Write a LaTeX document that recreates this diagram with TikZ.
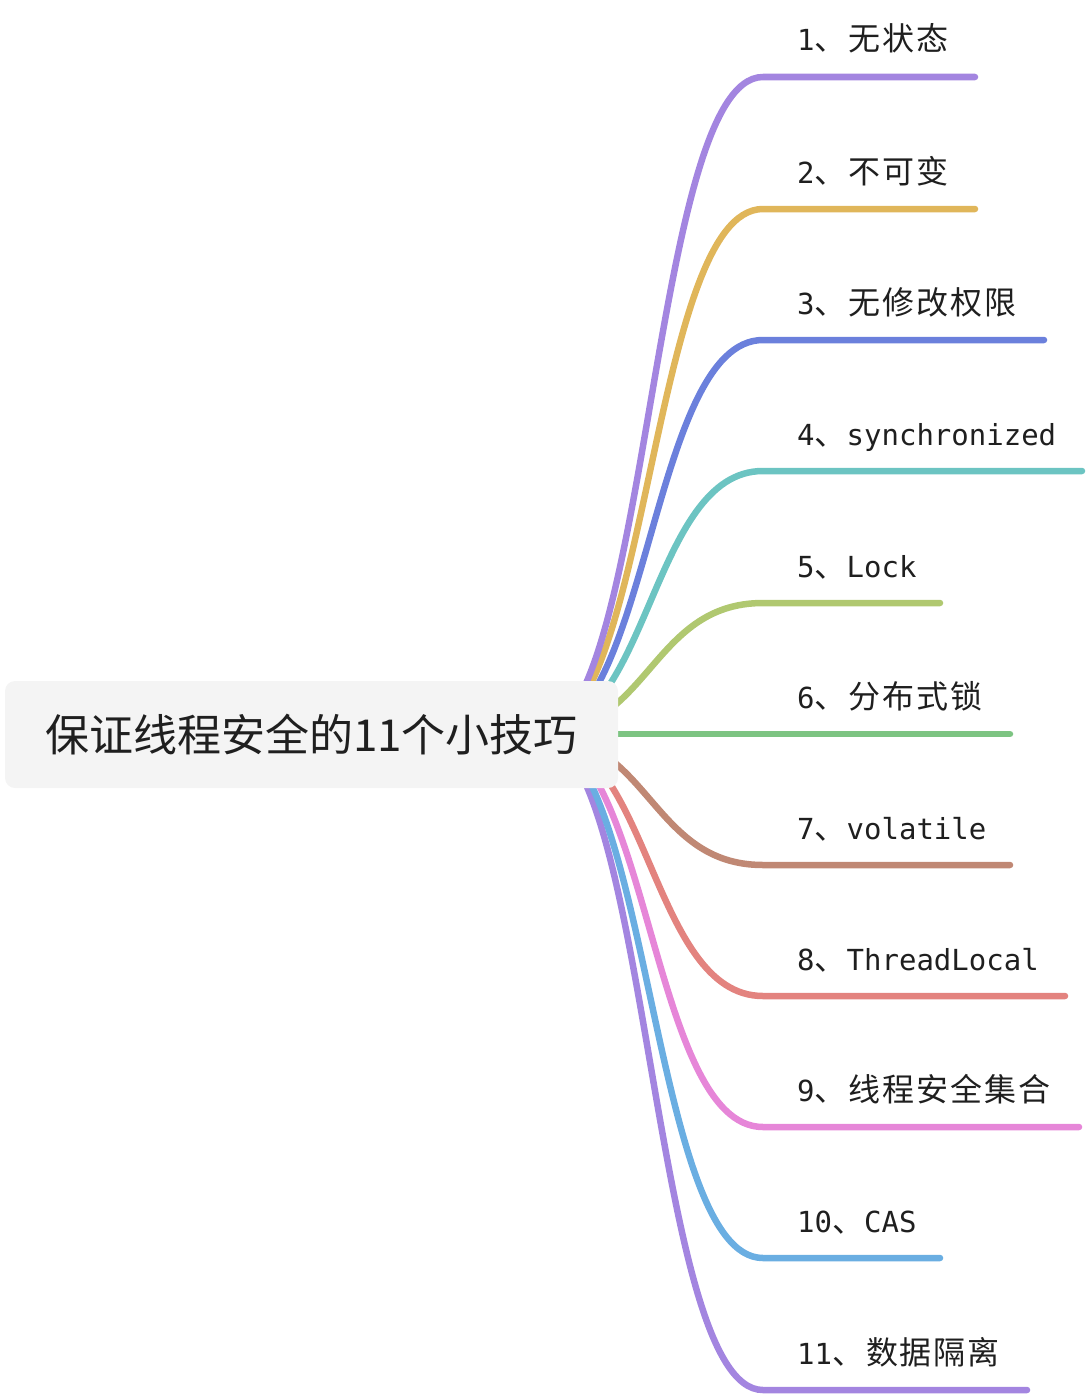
\documentclass[tikz,border=0pt]{standalone}
\usepackage{fontspec}
\newfontfamily\cjk[LetterSpace=6]{Noto Sans CJK SC}
\newfontfamily\cjkroot{Noto Sans CJK SC}
\newfontfamily\lat{DejaVu Sans Mono}
\definecolor{c1}{HTML}{A385E0}
\definecolor{c2}{HTML}{E0B65A}
\definecolor{c3}{HTML}{6B80DC}
\definecolor{c4}{HTML}{6CC4C2}
\definecolor{c5}{HTML}{B0C870}
\definecolor{c6}{HTML}{7DC482}
\definecolor{c7}{HTML}{C08874}
\definecolor{c8}{HTML}{E3837F}
\definecolor{c9}{HTML}{E686D8}
\definecolor{c10}{HTML}{6AAEE2}
\definecolor{c11}{HTML}{A385E0}
\definecolor{rootfill}{HTML}{F4F4F4}
\newcommand{\CJ}[1]{{\cjk\fontsize{32}{32}\selectfont #1}}
\begin{document}
\begin{tikzpicture}[x=1pt,y=-1pt,
  branchline/.style={line width=6.5pt,line cap=round},
  lbl/.style={anchor=base west,inner sep=0pt,font=\lat\fontsize{29}{29}\selectfont,text=black!88},
  rootbox/.style={fill=rootfill,draw=none,rounded corners=10pt,minimum width=613pt,minimum height=107pt,inner sep=0pt,font=\cjkroot\fontsize{44}{44}\selectfont,text=black!88}]
\useasboundingbox (0,0) rectangle (1087,1397);
\coordinate (hub) at (537,734);
% branch end coordinates (curve end) and line end coordinates
\foreach \i/\y/\xe in {1/77/975,2/209/975,3/340/1044,4/471/1082,5/603/940,6/734/1010,7/865/1010,8/996/1065,9/1127/1079,10/1258/940,11/1390/1027}{
  \coordinate (e\i) at (763,\y);
  \coordinate (f\i) at (\xe,\y);
}
\foreach \i in {11,10,9,8,7,6,5,4,3,2,1}{
  \draw[branchline,color=c\i] (hub) .. controls +(113,0) and +(-113,0) .. (e\i) -- (f\i);
}
\node[rootbox] (root) at (311.5,734.5) {保证线程安全的11个小技巧};
\node[lbl] (l1) at (797,51) {1\CJ{、无状态}};
\node[lbl] (l2) at (797,183) {2\CJ{、不可变}};
\node[lbl] (l3) at (797,314) {3\CJ{、无修改权限}};
\node[lbl] (l4) at (797,445) {4\CJ{、}synchronized};
\node[lbl] (l5) at (797,577) {5\CJ{、}Lock};
\node[lbl] (l6) at (797,708) {6\CJ{、分布式锁}};
\node[lbl] (l7) at (797,839) {7\CJ{、}volatile};
\node[lbl] (l8) at (797,970) {8\CJ{、}ThreadLocal};
\node[lbl] (l9) at (797,1101) {9\CJ{、线程安全集合}};
\node[lbl] (l10) at (797,1232) {10\CJ{、}CAS};
\node[lbl] (l11) at (797,1364) {11\CJ{、数据隔离}};
\end{tikzpicture}
\end{document}
